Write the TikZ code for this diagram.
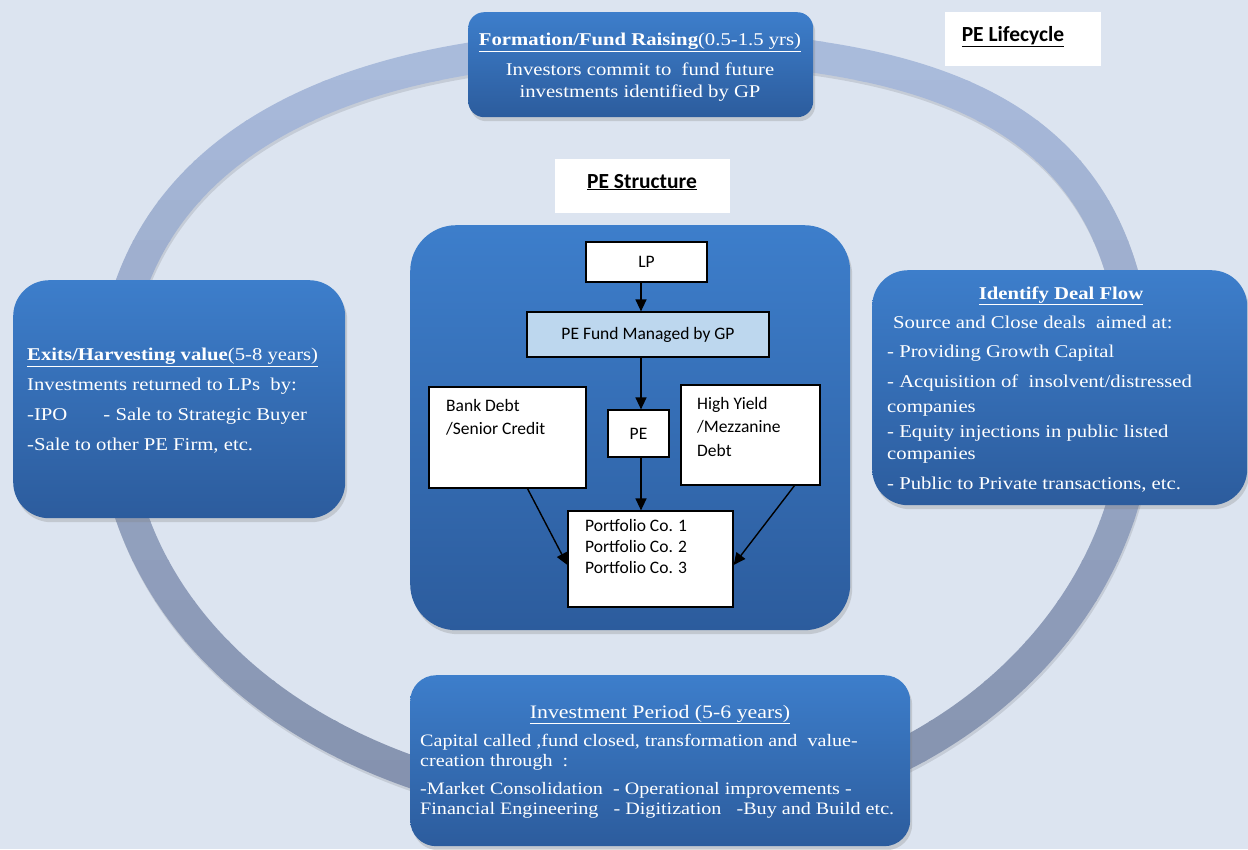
\documentclass[tikz,border=0pt]{standalone}
\usepackage{fontspec}
\setmainfont{Liberation Serif}[FakeStretch=1.15]
\newfontfamily\calfont{Carlito}
\usetikzlibrary{arrows.meta,shadows}
\definecolor{bgc}{HTML}{DCE4F0}
\definecolor{boxtop}{HTML}{3D7ECB}
\definecolor{boxbot}{HTML}{2C5C9D}
\definecolor{fundfill}{HTML}{BDD7EE}
\definecolor{ringtop}{HTML}{ABBDDE}
\definecolor{ringbot}{HTML}{8390AC}
\tikzset{
  bluebox/.style={top color=boxtop, bottom color=boxbot, draw=none, anchor=north west, inner sep=0pt,
    drop shadow={opacity=0.28, shadow xshift=2pt, shadow yshift=-4pt}},
  whitebox/.style={fill=white, draw=none, anchor=north west, inner sep=0pt},
  wtext/.style={text=white, inner sep=0pt, font=\fontsize{18}{22}\selectfont},
  ititle/.style={inner sep=0pt, text=black, font=\calfont\bfseries\fontsize{21.5}{24}\selectfont},
  inbox/.style={draw=black, fill=white, line width=1.2pt, inner sep=0pt, font=\calfont\fontsize{17.5}{21}\selectfont},
  intext/.style={inner sep=0pt, align=left, anchor=north west, font=\calfont\fontsize{17.5}{23.5}\selectfont},
  arr/.style={-{Triangle[length=12pt,width=11pt]}, line width=1.4pt, black}
}
\def\ringpath{(112,400) .. controls (112,173) and (302,46) .. (640,46) .. controls (994,46) and (1138,149) .. (1138,400) .. controls (1138,627) and (924,812) .. (660,812) .. controls (342,812) and (112,639) .. (112,400) -- cycle}
\begin{document}
\begin{tikzpicture}[x=1pt,y=-1pt]
\useasboundingbox (0,0) rectangle (1248,849);
\fill[bgc] (0,0) rectangle (1248,849);
% ring shadow
\begin{scope}[shift={(1,3)}]
\draw[line width=32pt, black, opacity=0.10] \ringpath;
\end{scope}
% ring with vertical gradient
\foreach \i in {0,...,19}{
  \pgfmathtruncatemacro\pct{100-\i*5}
  \begin{scope}
    \clip (0,{40*\i}) rectangle (1248,{40*\i+41});
    \draw[line width=32pt, draw=ringtop!\pct!ringbot] \ringpath;
  \end{scope}
}
% lifecycle boxes
\node[bluebox, rounded corners=16pt, minimum width=345pt, minimum height=105pt] (form) at (468,12) {};
\node[bluebox, rounded corners=36pt, minimum width=332pt, minimum height=238pt] (exit) at (13,280) {};
\node[bluebox, rounded corners=36pt, minimum width=375pt, minimum height=235pt] (deal) at (872,270) {};
\node[bluebox, rounded corners=26pt, minimum width=500pt, minimum height=171pt] (invest) at (410,675) {};
\node[bluebox, rounded corners=46pt, minimum width=440pt, minimum height=405pt] (struct) at (410,225) {};
% white label boxes
\node[whitebox, minimum width=156pt, minimum height=54pt] (lcbox) at (945,12) {};
\node[ititle, anchor=base] (lctxt) at (1013,41) {\underline{PE Lifecycle}};
\node[whitebox, minimum width=175pt, minimum height=54pt] (stbox) at (555,159) {};
\node[ititle, anchor=base] (sttxt) at (642,188) {\underline{PE Structure}};
% lifecycle texts
\node[wtext, anchor=north, align=center] (formtxt) at (640,33)
  {\underline{\textbf{Formation/Fund Raising}(0.5-1.5 yrs)}\\[8pt]
   Investors commit to\ \ fund future\\ investments identified by GP};
\node[wtext, anchor=north west, align=left, font=\fontsize{18}{30}\selectfont] (exittxt) at (27,348)
  {\underline{\textbf{Exits/Harvesting value}(5-8 years)}\\
   Investments returned to LPs\ \ by:\\
   -IPO\hspace{36pt}- Sale to Strategic Buyer\\
   -Sale to other PE Firm, etc.};
\node[wtext, anchor=base] (dealtitle) at (1061,299) {\underline{\textbf{Identify Deal Flow}}};
\node[wtext, anchor=north west, align=left] (dealtxt) at (887,316)
  {\hspace*{6pt}Source and Close deals\ \ aimed at:\\[7pt]
   - Providing Growth Capital\\[8pt]
   - Acquisition of\ \ insolvent/distressed\\[3pt]
   companies\\[3pt]
   - Equity injections in public listed\\
   companies\\[8pt]
   - Public to Private transactions, etc.};
\node[wtext, anchor=base, font=\fontsize{19}{22}\selectfont] (invtitle) at (660,718) {\underline{Investment Period (5-6 years)}};
\node[wtext, anchor=north west, align=left, font=\fontsize{17.5}{20}\selectfont] (invtxt) at (420,734)
  {Capital called ,fund closed, transformation and\ \ value-\\
   creation through\ \ :\\[8pt]
   -Market Consolidation\ \ - Operational improvements -\\
   Financial Engineering\ \ \ - Digitization\ \ \ -Buy and Build etc.};
% PE structure
\node[inbox, minimum width=121pt, minimum height=40pt] (lp) at (646.5,262) {LP};
\node[inbox, fill=fundfill, minimum width=242pt, minimum height=45pt] (fund) at (648,334.5) {PE Fund Managed by GP};
\node[inbox, minimum width=157pt, minimum height=101pt] (bank) at (507.5,437.5) {};
\node[inbox, minimum width=61pt, minimum height=47pt] (pe) at (638.5,433.5) {PE};
\node[inbox, minimum width=139pt, minimum height=100pt] (hy) at (750.5,435) {};
\node[inbox, minimum width=165pt, minimum height=96pt] (port) at (650.5,559) {};
\node[intext] (banktxt) at (446,399) {Bank Debt\\/Senior Credit};
\node[intext] (hytxt) at (697,397) {High Yield\\/Mezzanine\\Debt};
\node[intext, font=\calfont\fontsize{17.5}{21}\selectfont] (porttxt) at (585,519) {Portfolio Co. 1\\Portfolio Co. 2\\Portfolio Co. 3};
\coordinate (ax) at (641,0);
\draw[arr] (lp.south -| ax) -- (fund.north -| ax);
\draw[arr] (fund.south -| ax) -- (pe.north -| ax);
\draw[arr] (pe.south -| ax) -- (port.north -| ax);
\draw[arr] ([xshift=20pt]bank.south) -- ([yshift=-6pt]port.west);
\draw[arr] ([xshift=44pt]hy.south) -- ([yshift=-6pt]port.east);
\end{tikzpicture}
\end{document}
